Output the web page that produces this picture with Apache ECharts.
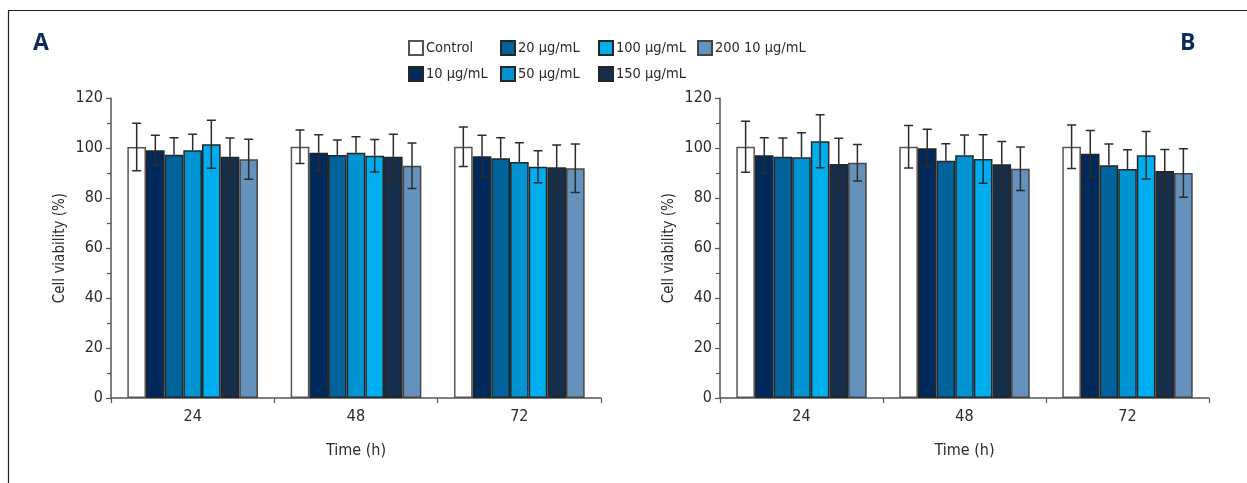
<!DOCTYPE html>
<html>
<head>
<meta charset="utf-8">
<script src="https://cdn.jsdelivr.net/npm/echarts@6/dist/echarts.min.js"></script>
<style>
html,body{margin:0;padding:0;background:#fff;}
#chart{width:1247px;height:483px;}
</style>
</head>
<body>
<div id="chart"></div>
<script>
// ---- data ----
var categories = ['24', '48', '72'];
var seriesNames = ['Control', '10 µg/mL', '20 µg/mL', '50 µg/mL', '100 µg/mL', '150 µg/mL', '200 10 µg/mL'];
var yTicks = [0, 20, 40, 60, 80, 100, 120];

// Panel A: mean viability (%) per series, by time point (24, 48, 72 h)
var A_control = [100.4, 100.5, 100.5];
var A_c10     = [99.1, 98.1, 96.7];
var A_c20     = [97.3, 97.2, 95.9];
var A_c50     = [99.1, 98.1, 94.4];
var A_c100    = [101.5, 96.9, 92.5];
var A_c150    = [96.5, 96.5, 92.3];
var A_c200    = [95.5, 92.9, 91.9];
// Panel A: error (±)
var A_control_err = [9.5, 6.7, 7.9];
var A_c10_err     = [6.0, 7.2, 8.4];
var A_c20_err     = [6.8, 6.0, 8.2];
var A_c50_err     = [6.4, 6.4, 7.7];
var A_c100_err    = [9.6, 6.5, 6.4];
var A_c150_err    = [7.5, 9.0, 8.9];
var A_c200_err    = [8.0, 9.1, 9.7];

// Panel B
var B_control = [100.5, 100.5, 100.5];
var B_c10     = [97.1, 99.9, 97.7];
var B_c20     = [96.5, 94.9, 93.1];
var B_c50     = [96.3, 97.1, 91.6];
var B_c100    = [102.7, 95.6, 97.1];
var B_c150    = [93.6, 93.5, 90.8];
var B_c200    = [94.1, 91.7, 90.0];
var B_control_err = [10.2, 8.5, 8.7];
var B_c10_err     = [7.0, 7.6, 9.3];
var B_c20_err     = [7.5, 6.8, 8.5];
var B_c50_err     = [9.8, 8.1, 7.7];
var B_c100_err    = [10.6, 9.7, 9.5];
var B_c150_err    = [10.3, 9.1, 8.6];
var B_c200_err    = [7.3, 8.7, 9.7];

var A_values = [A_control, A_c10, A_c20, A_c50, A_c100, A_c150, A_c200];
var A_errors = [A_control_err, A_c10_err, A_c20_err, A_c50_err, A_c100_err, A_c150_err, A_c200_err];
var B_values = [B_control, B_c10, B_c20, B_c50, B_c100, B_c150, B_c200];
var B_errors = [B_control_err, B_c10_err, B_c20_err, B_c50_err, B_c100_err, B_c150_err, B_c200_err];

// ---- styles ----
var colors = ['#ffffff', '#002a5c', '#00639b', '#0094d2', '#00aeef', '#172f4b', '#6592bd'];
var borderColors = ['#555555', '#262626', '#262626', '#262626', '#262626', '#262626', '#444444'];
var showLower = [true, true, false, false, true, true, true];
var FONT = "'Liberation Sans Narrow', 'DejaVu Sans Condensed', 'Noto Sans', sans-serif";
var TXT = '#2a2a2a';

var chart = echarts.init(document.getElementById('chart'), null, {renderer: 'canvas'});

function makeAxes(gridIndex) {
  var x = {
    type: 'category', gridIndex: gridIndex, data: categories,
    name: 'Time (h)', nameLocation: 'middle', nameGap: 45,
    nameTextStyle: {fontFamily: FONT, fontSize: 16, color: TXT},
    axisLine: {lineStyle: {color: '#555', width: 1.5}},
    axisTick: {show: true, length: 5, lineStyle: {color: '#555', width: 1.2}},
    axisLabel: {fontFamily: FONT, fontSize: 16, color: TXT, margin: 11},
    splitLine: {show: false}
  };
  var y = {
    type: 'value', gridIndex: gridIndex, min: 0, max: 120, interval: 20,
    name: 'Cell viability (%)', nameLocation: 'middle', nameGap: 43, nameRotate: 90,
    nameTextStyle: {fontFamily: FONT, fontSize: 15, color: TXT},
    axisLine: {show: true, lineStyle: {color: '#555', width: 1.5}},
    axisTick: {show: true, length: 5, lineStyle: {color: '#555', width: 1.2}},
    minorTick: {show: true, splitNumber: 2, length: 4, lineStyle: {color: '#555', width: 1.2}},
    axisLabel: {fontFamily: FONT, fontSize: 16, color: TXT, margin: 8,
      formatter: function (v) { return yTicks.indexOf(v) >= 0 ? String(v) : ''; }},
    splitLine: {show: false}
  };
  return {x: x, y: y};
}

var axA = makeAxes(0), axB = makeAxes(1);

var series = [];
function addPanel(gridIdx, values, errors) {
  for (var i = 0; i < seriesNames.length; i++) {
    series.push({
      type: 'bar', name: seriesNames[i], xAxisIndex: gridIdx, yAxisIndex: gridIdx,
      data: values[i], barGap: '0%', barCategoryGap: '20%',
      itemStyle: {color: colors[i], borderColor: borderColors[i], borderWidth: 1.5},
      emphasis: {disabled: true}, z: 2
    });
  }
  var errData = [];
  for (var s = 0; s < values.length; s++) {
    for (var c = 0; c < categories.length; c++) {
      errData.push([c, s, values[s][c], errors[s][c]]);
    }
  }
  series.push({
    type: 'custom', xAxisIndex: gridIdx, yAxisIndex: gridIdx, z: 5,
    data: errData, silent: true,
    renderItem: function (params, api) {
      var cat = api.value(0), s = api.value(1), v = api.value(2), e = api.value(3);
      var band = api.size([1, 0])[0];
      var bw = band * 0.8 / seriesNames.length;
      var cx = api.coord([cat, 0])[0] + (s - (seriesNames.length - 1) / 2) * bw;
      var yTop = api.coord([cat, v + e])[1];
      var yMid = api.coord([cat, v])[1];
      var yBot = api.coord([cat, v - e])[1];
      var cap = 4.5;
      var style = {stroke: '#2b2b2b', lineWidth: 1.5};
      var children = [
        {type: 'line', shape: {x1: cx, y1: yTop, x2: cx, y2: yMid}, style: style},
        {type: 'line', shape: {x1: cx - cap, y1: yTop, x2: cx + cap, y2: yTop}, style: style}
      ];
      if (showLower[s]) {
        children.push({type: 'line', shape: {x1: cx, y1: yMid, x2: cx, y2: yBot}, style: style});
        children.push({type: 'line', shape: {x1: cx - cap, y1: yBot, x2: cx + cap, y2: yBot}, style: style});
      }
      return {type: 'group', children: children};
    }
  });
}
addPanel(0, A_values, A_errors);
addPanel(1, B_values, B_errors);

function legendCol(left, names) {
  return {
    orient: 'vertical', left: left, top: 40, itemWidth: 14, itemHeight: 14, itemGap: 10,
    icon: 'rect', data: names, selectedMode: false,
    textStyle: {fontFamily: FONT, fontSize: 14.5, color: TXT, padding: [0, 0, 0, -2]},
    padding: 0
  };
}

var option = {
  animation: false,
  backgroundColor: '#fff',
  grid: [
    {left: 111, top: 98, width: 490, height: 300},
    {left: 720, top: 98, width: 489, height: 300}
  ],
  xAxis: [axA.x, axB.x],
  yAxis: [axA.y, axB.y],
  legend: [
    legendCol(408, [seriesNames[0], seriesNames[1]]),
    legendCol(500, [seriesNames[2], seriesNames[3]]),
    legendCol(598, [seriesNames[4], seriesNames[5]]),
    legendCol(697, [seriesNames[6]])
  ],
  graphic: [
    {type: 'rect', shape: {x: 8.5, y: 10.5, width: 1300, height: 600}, style: {fill: 'none', stroke: '#222', lineWidth: 1.2}, silent: true, z: -1},
    {type: 'text', left: 33, top: 32, style: {text: 'A', font: "bold 23px 'Open Sans', 'Noto Sans', sans-serif", fill: '#0a2c5c'}},
    {type: 'text', left: 1180, top: 32, style: {text: 'B', font: "bold 23px 'Open Sans', 'Noto Sans', sans-serif", fill: '#0a2c5c'}}
  ],
  series: series
};
chart.setOption(option);
</script>
</body>
</html>
